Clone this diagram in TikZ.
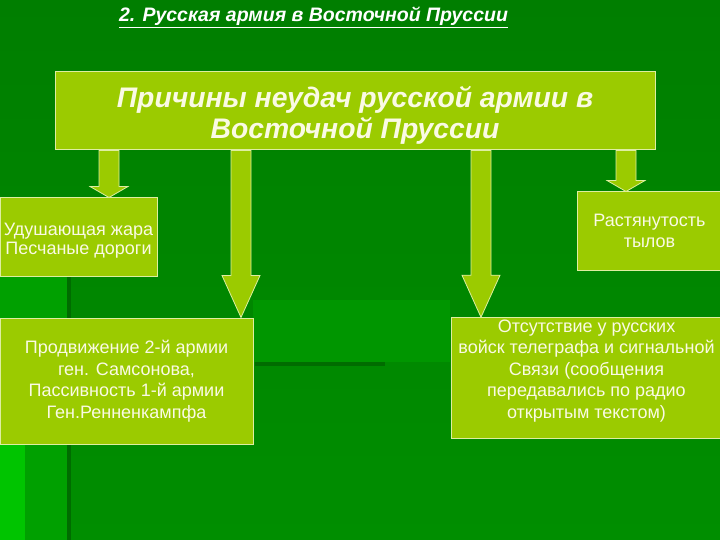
\documentclass[tikz,border=0pt]{standalone}
\usepackage{fontspec}
\setmainfont{Liberation Sans}
\usetikzlibrary{calc,positioning}

\definecolor{topgreen}{RGB}{0,126,0}
\definecolor{bggreen}{RGB}{0,142,0}
\definecolor{bandgreen}{RGB}{0,160,0}
\definecolor{lightband}{RGB}{0,196,0}
\definecolor{darkband}{RGB}{0,108,0}
\definecolor{boxgreen}{RGB}{155,203,0}
\definecolor{boxedge}{RGB}{222,238,160}
\definecolor{boxtext}{RGB}{250,250,228}

\tikzset{
  causebox/.style={draw=boxedge,fill=boxgreen,line width=1pt,text=boxtext,align=center,
    inner sep=2pt,font=\fontsize{18}{21.5}\selectfont},
  arrowbody/.style={draw=boxedge,fill=boxgreen,line width=0.8pt,line join=miter}
}

% fat arrow from the bottom of #2 to the top of #3 at the x of #1, head length #4
\newcommand{\blockarrow}[4]{%
  \path (#2.south -| #1) coordinate (bat) (#3.north -| #1) coordinate (bab);
  \draw[arrowbody] ($(bat)+(-10,0)$) -- ($(bab)+(-10,-#4)$) -- ($(bab)+(-19,-#4)$) -- (bab)
    -- ($(bab)+(19,-#4)$) -- ($(bab)+(10,-#4)$) -- ($(bat)+(10,0)$) -- cycle;
}

\begin{document}
\begin{tikzpicture}[x=1pt,y=-1pt]
\useasboundingbox (0,0) rectangle (720,540);
\clip (0,0) rectangle (720,540);
% background bands
\shade[top color=topgreen,bottom color=bggreen] (0,0) rectangle (720,540);
\fill[bandgreen] (0,270) rectangle (67,540);
\fill[lightband] (0,440) rectangle (25,540);
\fill[darkband] (67,270) rectangle (71,540);
\fill[bandgreen!45!bggreen] (253,300) rectangle (450,362);
\fill[darkband] (255,362) rectangle (385,366);

\node[font=\bfseries\itshape\fontsize{19.5}{22}\selectfont,text=white] (title) at (313.5,17)
  {\underline{2. Русская армия в Восточной Пруссии}};

\node[causebox,minimum width=600pt,minimum height=78pt,
  font=\bfseries\itshape\fontsize{28.3}{31.5}\selectfont] (main) at (355,111)
  {\rule{0pt}{30pt}Причины неудач русской армии в\\Восточной Пруссии};

\node[causebox,minimum width=157pt,minimum height=78pt,font=\fontsize{18}{19.5}\selectfont] (heat) at (78.5,237)
  {\rule{0pt}{20pt}Удушающая жара\\Песчаные дороги};
\node[causebox,minimum width=253pt,minimum height=126pt] (advance) at (126.5,381)
  {Продвижение 2-й армии\\ген. Самсонова,\\Пассивность 1-й армии\\Ген.Ренненкампфа};
\node[causebox,minimum width=145pt,minimum height=78pt] (rear) at (649.5,231)
  {Растянутость\\тылов};
\node[causebox,minimum width=271pt,minimum height=120pt] (telegraph) at (586.5,378)
  {Отсутствие у русских\\войск телеграфа и сигнальной\\Связи (сообщения\\передавались по радио\\открытым текстом)\\[-10pt]\strut};

\coordinate (x1) at (109,0);
\coordinate (x2) at (241,0);
\coordinate (x3) at (481,0);
\coordinate (x4) at (626,0);
\blockarrow{x1}{main}{heat}{11}
\blockarrow{x2}{main}{advance}{42}
\blockarrow{x3}{main}{telegraph}{42}
\blockarrow{x4}{main}{rear}{11}
\end{tikzpicture}
\end{document}
